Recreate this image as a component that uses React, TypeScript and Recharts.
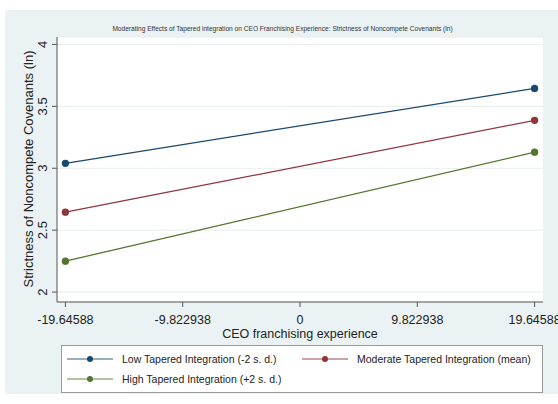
import { LineChart, Line, XAxis, YAxis, CartesianGrid } from 'recharts';

// valeurs
const xPoints = [-19.64588, 19.64588];
const lowTI = [3.04, 3.645];
const modTI = [2.645, 3.387];
const highTI = [2.25, 3.13];

const xTicks = [-19.64588, -9.822938, 0, 9.822938, 19.64588];
const xTickLabels = ['-19.64588', '-9.822938', '0', '9.822938', '19.64588'];
const yTicks = [2, 2.5, 3, 3.5, 4];
const yTickLabels = ['2', '2.5', '3', '3.5', '4'];

const seriesNames = [
  'Low Tapered Integration (-2 s. d.)',
  'Moderate Tapered Integration (mean)',
  'High Tapered Integration (+2 s. d.)',
];
const colors = ['#1a476f', '#90353b', '#55752f'];

const data = xPoints.map((x, i) => ({ x, low: lowTI[i], mod: modTI[i], high: highTI[i] }));

const FONT = '"Liberation Sans", Arial, sans-serif';

const YTick = ({ x, y, payload }: any) => {
  const i = yTicks.indexOf(payload.value);
  return (
    <text
      transform={`translate(${x - 1},${y}) rotate(-90)`}
      textAnchor="middle"
      fontSize={13}
      fontFamily={FONT}
      fill="#222"
    >
      {i >= 0 ? yTickLabels[i] : payload.value}
    </text>
  );
};

const XTick = ({ x, y, payload }: any) => {
  const i = xTicks.indexOf(payload.value);
  return (
    <text x={x} y={y} dy="0.71em" textAnchor="middle" fontSize={12.5} fontFamily={FONT} fill="#222">
      {i >= 0 ? xTickLabels[i] : payload.value}
    </text>
  );
};

const LegendItem = ({ color, label, left, top }: any) => (
  <div style={{ position: 'absolute', left, top, display: 'flex', alignItems: 'center', whiteSpace: 'nowrap' }}>
    <svg width={48} height={8} style={{ marginRight: 8 }}>
      <line x1={1} y1={4} x2={47} y2={4} stroke={color} strokeOpacity={0.6} strokeWidth={1.5} />
      <circle cx={24} cy={4} r={3} fill={color} />
    </svg>
    <span style={{ fontSize: 10.5, fontFamily: FONT, color: '#222' }}>{label}</span>
  </div>
);

export default function App() {
  return (
    <div style={{ position: 'absolute', left: 0, top: 0, width: 558, height: 404, background: '#fff', overflow: 'hidden' }}>
      <div style={{ position: 'absolute', left: 5, top: 10, width: 553, height: 384, background: '#eaf2f3' }} />
      <div
        style={{
          position: 'absolute', left: 0, top: 25, width: 565, textAlign: 'center',
          fontSize: 6.6, fontFamily: FONT, color: '#333', whiteSpace: 'nowrap',
        }}
      >
        Moderating Effects of Tapered integration on CEO Franchising Experience: Strictness of Noncompete Covenants (ln)
      </div>
      <div style={{ position: 'absolute', left: 0, top: 0 }}>
        <LineChart width={558} height={404} data={data} margin={{ top: 37, right: 15, bottom: 62, left: 27 }}>
          <CartesianGrid vertical={false} horizontal stroke="#e6eef0" fill="#ffffff" />
          <XAxis
            dataKey="x"
            type="number"
            domain={[-20.35, 20.35]}
            ticks={xTicks}
            tick={<XTick />}
            tickSize={5}
            tickMargin={8}
            height={40}
            stroke="#555"
            interval={0}
          />
          <YAxis
            type="number"
            domain={[1.92, 4.06]}
            ticks={yTicks}
            tick={<YTick />}
            tickSize={5}
            tickMargin={4}
            width={30}
            stroke="#555"
            interval={0}
            allowDataOverflow
          />
          <Line dataKey="low" stroke={colors[0]} strokeWidth={1.3} dot={{ r: 3, fill: colors[0], stroke: colors[0] }} isAnimationActive={false} />
          <Line dataKey="mod" stroke={colors[1]} strokeWidth={1.3} dot={{ r: 3, fill: colors[1], stroke: colors[1] }} isAnimationActive={false} />
          <Line dataKey="high" stroke={colors[2]} strokeWidth={1.3} dot={{ r: 3, fill: colors[2], stroke: colors[2] }} isAnimationActive={false} />
        </LineChart>
      </div>
      <svg style={{ position: 'absolute', left: 0, top: 0 }} width={60} height={310}>
        <text
          transform="translate(33,169) rotate(-90)"
          textAnchor="middle"
          fontSize={13}
          fontFamily={FONT}
          fill="#222"
        >
          Strictness of Noncompete Covenants (ln)
        </text>
      </svg>
      <div
        style={{
          position: 'absolute', left: 57, top: 327, width: 486, textAlign: 'center',
          fontSize: 12.5, fontFamily: FONT, color: '#222',
        }}
      >
        CEO franchising experience
      </div>
      <div
        style={{
          position: 'absolute', left: 61, top: 345, width: 480, height: 46,
          background: '#fff', border: '1px solid #9a9a9a',
        }}
      />
      <LegendItem color={colors[0]} label={seriesNames[0]} left={66} top={353} />
      <LegendItem color={colors[1]} label={seriesNames[1]} left={301} top={353} />
      <LegendItem color={colors[2]} label={seriesNames[2]} left={66} top={373} />
    </div>
  );
}
